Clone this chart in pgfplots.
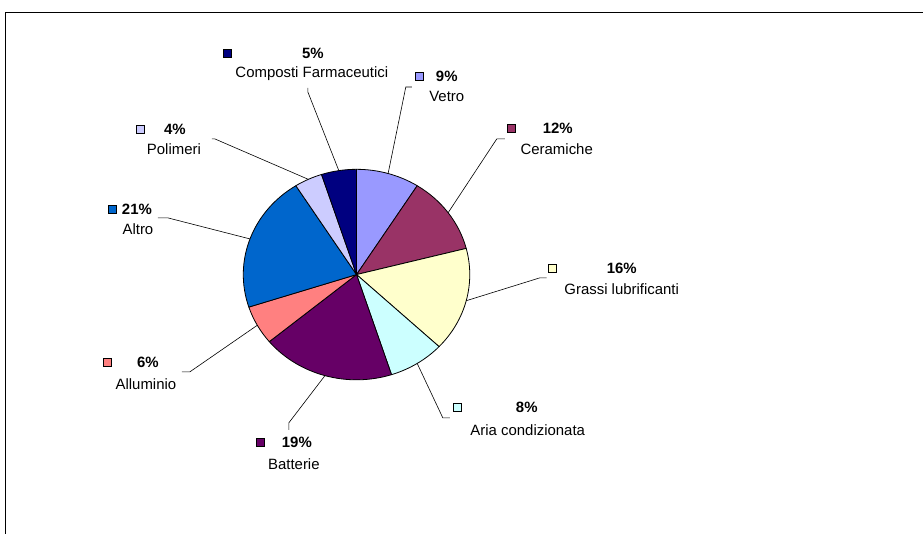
\documentclass[border=0pt]{standalone}
\usepackage{pgfplots}
\pgfplotsset{compat=1.18}
\usepackage{pgfplotstable}
\usepackage{fontspec}
\setmainfont{Liberation Sans}

\definecolor{cVetro}{HTML}{9999FF}
\definecolor{cCer}{HTML}{993366}
\definecolor{cGrassi}{HTML}{FFFFCC}
\definecolor{cAria}{HTML}{CCFFFF}
\definecolor{cBatt}{HTML}{660066}
\definecolor{cAll}{HTML}{FF8080}
\definecolor{cAltro}{HTML}{0066CC}
\definecolor{cPol}{HTML}{CCCCFF}
\definecolor{cComp}{HTML}{000080}

% slices clockwise from the top; label layout in pixels (y down)
\pgfplotstableread[col sep=comma]{
name,value,col,sx,sy,px,nx,ny,bx,by,cx,cy
Vetro,9,cVetro,420,76,447,447,96,406,87,412,87
Ceramiche,12,cCer,512,128,558,557,149,497,139,505,139
Grassi lubrificanti,16,cGrassi,553,268,622,622,289,540,278,547,278
Aria condizionata,8,cAria,458,408,527,528,430,443,418,450,418
Batterie,19,cBatt,260,443,297,294,464,289,423,289,430
Alluminio,6,cAll,107,363,148,146,384,190,372,182,372
Altro,21,cAltro,112,209,137,138,229,168,218,158,218
Polimeri,4,cPol,140,129,175,174,149,215,139,212,139
Composti Farmaceutici,5,cComp,227,53,313,312,74,308,92,308,88
}\pietable

\begin{document}
\begin{tikzpicture}
\begin{axis}[
  scale only axis,
  width=923bp, height=534bp,
  xmin=0, xmax=923, ymin=0, ymax=534,
  y dir=reverse,
  hide axis,
  clip=false,
]
\path (axis cs:0,0) rectangle (axis cs:923,534);
\draw[black, line width=0.9bp] (axis cs:5,534) -- (axis cs:5,12) -- (axis cs:923,12);

\pgfplotstablegetrowsof{\pietable}
\pgfmathtruncatemacro\nrows{\pgfplotsretval-1}
\gdef\cum{90}
\foreach \i in {0,...,\nrows}{
  \pgfplotstablegetelem{\i}{value}\of\pietable\edef\v{\pgfplotsretval}
  \pgfplotstablegetelem{\i}{col}\of\pietable\edef\c{\pgfplotsretval}
  \pgfplotstablegetelem{\i}{name}\of\pietable\edef\n{\pgfplotsretval}
  \pgfplotstablegetelem{\i}{sx}\of\pietable\edef\sx{\pgfplotsretval}
  \pgfplotstablegetelem{\i}{sy}\of\pietable\edef\sy{\pgfplotsretval}
  \pgfplotstablegetelem{\i}{px}\of\pietable\edef\px{\pgfplotsretval}
  \pgfplotstablegetelem{\i}{nx}\of\pietable\edef\nx{\pgfplotsretval}
  \pgfplotstablegetelem{\i}{ny}\of\pietable\edef\ny{\pgfplotsretval}
  \pgfplotstablegetelem{\i}{bx}\of\pietable\edef\bx{\pgfplotsretval}
  \pgfplotstablegetelem{\i}{by}\of\pietable\edef\by{\pgfplotsretval}
  \pgfplotstablegetelem{\i}{cx}\of\pietable\edef\cx{\pgfplotsretval}
  \pgfplotstablegetelem{\i}{cy}\of\pietable\edef\cy{\pgfplotsretval}
  \pgfmathsetmacro\e{\cum-3.6*\v}
  \pgfmathsetmacro\m{\cum-1.8*\v}
  \pgfmathsetmacro\ax{356.7+113.3*cos(\m)}
  \pgfmathsetmacro\ay{274.7-105.3*sin(\m)}
  \edef\cmd{%
    \noexpand\fill[fill=\c, draw=black, line width=0.8bp, line join=round]
      (axis cs:356.7,274.7) -- ++(\cum:113.3bp and 105.3bp)
      arc[start angle=\cum, end angle=\e, x radius=113.3bp, y radius=105.3bp] -- cycle;
    \noexpand\draw[black, line width=0.6bp] (axis cs:\ax,\ay) -- (axis cs:\bx,\by) -- (axis cs:\cx,\cy);
    \noexpand\draw[fill=\c, draw=black, line width=0.7bp] (axis cs:\sx,\sy) +(-4bp,-4bp) rectangle +(4bp,4bp);
    \noexpand\node[font=\noexpand\fontsize{15}{17}\noexpand\selectfont\noexpand\bfseries] at (axis cs:\px,\sy) {\v\noexpand\%};
    \noexpand\node[font=\noexpand\fontsize{15}{17}\noexpand\selectfont] at (axis cs:\nx,\ny) {\n};
  }
  \cmd
  \xdef\cum{\e}
}
\end{axis}
\end{tikzpicture}
\end{document}
